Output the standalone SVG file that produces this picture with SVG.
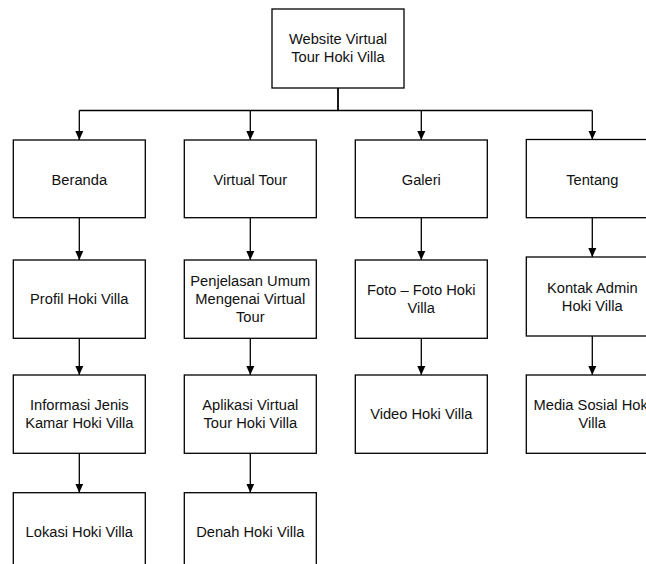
<svg xmlns="http://www.w3.org/2000/svg" width="646" height="564" viewBox="0 0 646 564">
<style>
rect.n{fill:#fff;stroke:#000;stroke-width:1.3}
text{font-family:"Liberation Sans",Arial,sans-serif;font-size:14.7px;fill:#111;text-anchor:middle}
.c{fill:none;stroke:#000;stroke-width:1.3}
</style>
<defs>
<marker id="ah" markerUnits="userSpaceOnUse" markerWidth="10" markerHeight="10" viewBox="0 0 10 10" refX="9" refY="5" orient="auto">
<path d="M0,1 L9,5 L0,9 Z" fill="#000"/>
</marker>
</defs>
<rect width="646" height="564" fill="#fff"/>
<g id="connectors">
<path d="M338,88 V110.5" fill="none" stroke="#000" stroke-width="1.8"/>
<path class="c" d="M79.3,110.5 H592.3"/>
<path class="c" d="M79.3,110.5 V140" marker-end="url(#ah)"/>
<path class="c" d="M250.3,110.5 V140" marker-end="url(#ah)"/>
<path class="c" d="M421.3,110.5 V140" marker-end="url(#ah)"/>
<path class="c" d="M592.3,110.5 V139.5" marker-end="url(#ah)"/>
<path class="c" d="M79.3,217.7 V260" marker-end="url(#ah)"/>
<path class="c" d="M79.3,338.3 V375" marker-end="url(#ah)"/>
<path class="c" d="M79.3,453.3 V492.7" marker-end="url(#ah)"/>
<path class="c" d="M250.3,217.7 V260" marker-end="url(#ah)"/>
<path class="c" d="M250.3,338.3 V375" marker-end="url(#ah)"/>
<path class="c" d="M250.3,453.3 V492.7" marker-end="url(#ah)"/>
<path class="c" d="M421.3,217.7 V260" marker-end="url(#ah)"/>
<path class="c" d="M421.3,338.3 V375" marker-end="url(#ah)"/>
<path class="c" d="M592.3,217.7 V257" marker-end="url(#ah)"/>
<path class="c" d="M592.3,336 V375" marker-end="url(#ah)"/>
</g>
<g id="root"><rect class="n" x="272" y="9" width="132" height="79"/><text x="338" y="44.3">Website Virtual</text><text x="338" y="62.3">Tour Hoki Villa</text></g>
<g id="beranda"><rect class="n" x="13.3" y="140" width="132" height="77.7"/><text x="79.3" y="184.5">Beranda</text></g>
<g id="virtualtour"><rect class="n" x="184.3" y="140" width="132" height="77.7"/><text x="250.3" y="184.5">Virtual Tour</text></g>
<g id="galeri"><rect class="n" x="355.3" y="140" width="132" height="77.7"/><text x="421.3" y="184.5">Galeri</text></g>
<g id="tentang"><rect class="n" x="526.3" y="139.5" width="132" height="78.2"/><text x="592.3" y="184.5">Tentang</text></g>
<g id="profil"><rect class="n" x="13.3" y="260" width="132" height="78.3"/><text x="79.3" y="304.3">Profil Hoki Villa</text></g>
<g id="penjelasan"><rect class="n" x="184.3" y="260" width="132" height="78.3"/><text x="250.3" y="286.3">Penjelasan Umum</text><text x="250.3" y="304.3">Mengenai Virtual</text><text x="250.3" y="322.3">Tour</text></g>
<g id="foto"><rect class="n" x="355.3" y="260" width="132" height="78.3"/><text x="421.3" y="295">Foto – Foto Hoki</text><text x="421.3" y="313">Villa</text></g>
<g id="kontak"><rect class="n" x="526.3" y="257" width="132" height="79"/><text x="592.3" y="292.7">Kontak Admin</text><text x="592.3" y="310.5">Hoki Villa</text></g>
<g id="informasi"><rect class="n" x="13.3" y="375" width="132" height="78.3"/><text x="79.3" y="410">Informasi Jenis</text><text x="79.3" y="428.3">Kamar Hoki Villa</text></g>
<g id="aplikasi"><rect class="n" x="184.3" y="375" width="132" height="78.3"/><text x="250.3" y="410">Aplikasi Virtual</text><text x="250.3" y="428.3">Tour Hoki Villa</text></g>
<g id="video"><rect class="n" x="355.3" y="375" width="132" height="78.3"/><text x="421.3" y="419.2">Video Hoki Villa</text></g>
<g id="media"><rect class="n" x="526.3" y="375" width="132" height="78.3"/><text x="592.3" y="410">Media Sosial Hoki</text><text x="592.3" y="428.3">Villa</text></g>
<g id="lokasi"><rect class="n" x="13.3" y="492.7" width="132" height="78.3"/><text x="79.3" y="537.3">Lokasi Hoki Villa</text></g>
<g id="denah"><rect class="n" x="184.3" y="492.7" width="132" height="78.3"/><text x="250.3" y="537.3">Denah Hoki Villa</text></g>
</svg>
